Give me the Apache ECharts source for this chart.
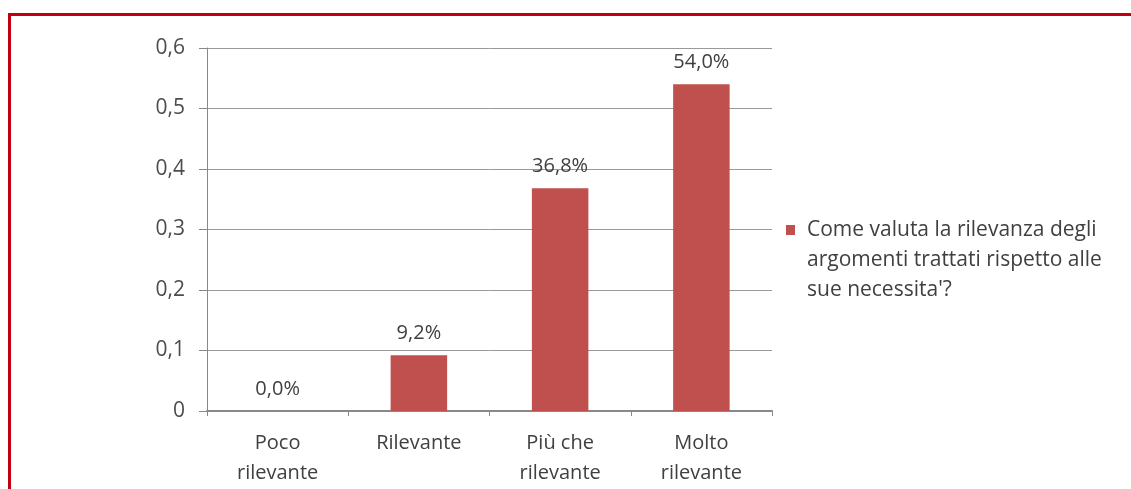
<!DOCTYPE html>
<html>
<head>
<meta charset="utf-8">
<script src="https://cdn.jsdelivr.net/npm/echarts@6/dist/echarts.min.js"></script>
<style>
  html, body { margin: 0; padding: 0; background: #fff; overflow: hidden; }
  #chart { position: absolute; left: 0; top: 0; width: 1131px; height: 489px; }
  #frame { position: absolute; left: 8px; top: 13px; width: 1200px; height: 600px;
           border-top: 3px solid #c00010; border-left: 3px solid #c00010; pointer-events: none; }
</style>
</head>
<body>
<div id="chart"></div>
<div id="frame"></div>
<script>
const categories = ['Poco\nrilevante', 'Rilevante', 'Più che\nrilevante', 'Molto\nrilevante'];
const values = [0.0, 0.092, 0.368, 0.54];
const seriesName = "Come valuta la rilevanza degli\nargomenti trattati rispetto alle\nsue necessita'?";
const yTicks = { min: 0, max: 0.6, interval: 0.1 };

const FONT = '"Open Sans", sans-serif';
const chart = echarts.init(document.getElementById('chart'));
chart.setOption({
  animation: false,
  backgroundColor: '#fff',
  grid: { left: 207, right: 359, top: 48, bottom: 78 },
  legend: {
    data: [seriesName],
    orient: 'vertical',
    left: 786, top: 215, padding: 0,
    itemWidth: 9, itemHeight: 90,
    // small square at the top of a tall (otherwise empty) symbol box, aligned with the first text line
    icon: 'path://M0,10h9v10h-9Z M0,0L0.01,0L0,0.01Z M0,90L0.01,90L0,89.99Z',
    textStyle: { fontFamily: FONT, fontSize: 21, color: '#404040', lineHeight: 30, padding: [0, 0, 0, 7] }
  },
  xAxis: {
    type: 'category',
    data: categories,
    axisLine: { lineStyle: { color: '#888', width: 2 } },
    axisTick: { show: true, alignWithLabel: false, length: 5, lineStyle: { color: '#888' } },
    axisLabel: { interval: 0, fontFamily: FONT, fontSize: 20, color: '#404040', lineHeight: 30, margin: 17 }
  },
  yAxis: {
    type: 'value',
    min: yTicks.min, max: yTicks.max, interval: yTicks.interval,
    axisLine: { show: true, lineStyle: { color: '#888', width: 1 } },
    axisTick: { show: true, length: 8, lineStyle: { color: '#888' } },
    splitLine: { lineStyle: { color: '#999', width: 1 } },
    axisLabel: {
      fontFamily: FONT, fontSize: 21, color: '#4d4d4d', margin: 22,
      formatter: v => String(Math.round(v * 10) / 10).replace('.', ',')
    }
  },
  series: [{
    name: seriesName,
    type: 'bar',
    data: values,
    barWidth: '40%',
    itemStyle: { color: '#c0504d' },
    label: {
      show: true, position: 'top', distance: 12,
      fontFamily: FONT, fontSize: 20, color: '#404040',
      formatter: p => (p.value * 100).toFixed(1).replace('.', ',') + '%'
    }
  }]
});
</script>
</body>
</html>
